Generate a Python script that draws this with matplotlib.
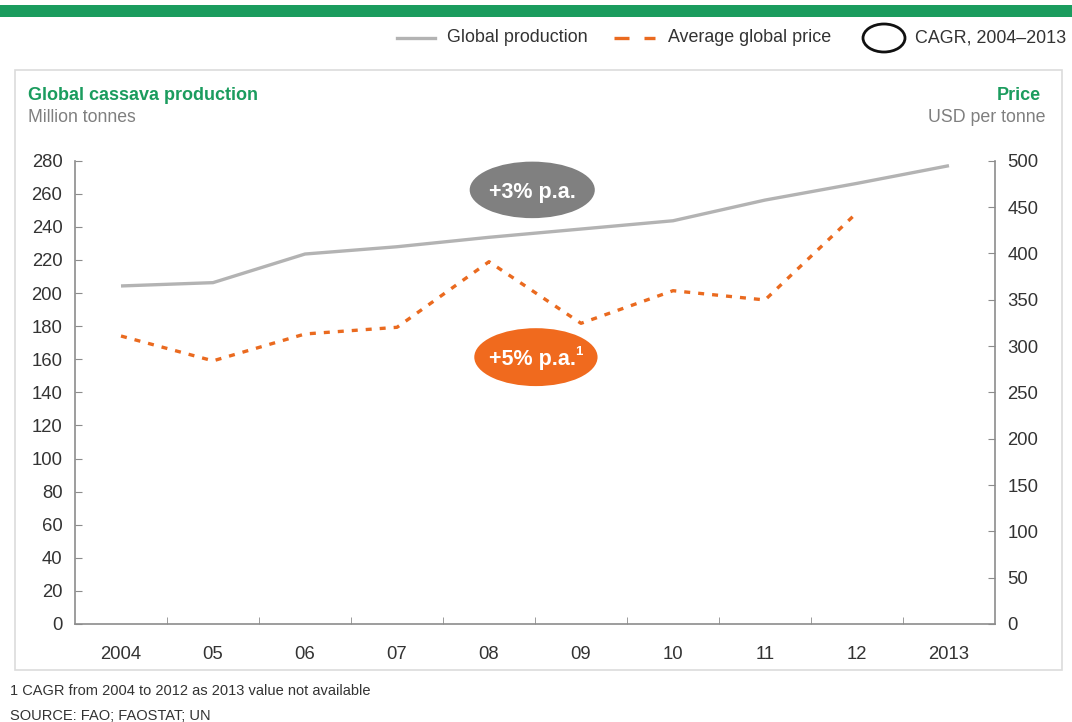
import numpy as np
import matplotlib.pyplot as plt
from matplotlib.patches import Ellipse, Rectangle
from matplotlib.lines import Line2D

years = ['2004', '05', '06', '07', '08', '09', '10', '11', '12', '2013']
production = [204.3, 206.3, 223.6, 228.0, 233.7, 238.7, 243.7, 256.2, 266.3, 277.0]
price = [310.8, 284.0, 313.0, 320.2, 391.0, 324.5, 359.7, 349.7, 444.0]

green = '#1b9c5e'
grey_line = '#b3b3b3'
orange = '#ea6a1f'
txt_grey = '#7f7f7f'
axis_grey = '#8c8c8c'
dark = '#333333'

plt.rcParams['font.family'] = ['Liberation Sans', 'DejaVu Sans']

W, H = 1072, 722
fig = plt.figure(figsize=(W / 100, H / 100), dpi=100)

def fx(px):
    return px / W

def fy(py):
    return 1 - py / H

# top green bar and panel frame
fig.patches.append(Rectangle((0, fy(17)), 1, fy(5) - fy(17), transform=fig.transFigure,
                             color=green, lw=0))
fig.patches.append(Rectangle((fx(15), fy(670)), fx(1062) - fx(15), fy(70) - fy(670),
                             transform=fig.transFigure, fill=False, ec='#dcdcdc', lw=1.2))

ax = fig.add_axes([fx(75), fy(624), fx(995) - fx(75), fy(160.7) - fy(624)])
ax2 = ax.twinx()

x = np.arange(len(years))
ax.plot(x, production, color=grey_line, lw=2.4, solid_capstyle='butt', zorder=3)
ax2.plot(x[:len(price)], price, color=orange, lw=2.4, dashes=(1.8, 2.4), zorder=3)

ax.set_xlim(-0.5, len(years) - 0.5)
ax.set_ylim(0, 280)
ax2.set_ylim(0, 500)
ax.set_yticks(np.arange(0, 281, 20))
ax2.set_yticks(np.arange(0, 501, 50))
ax.set_xticks(x)
ax.set_xticklabels(years)
ax.set_xticks(x[:-1] + 0.5, minor=True)

for a in (ax, ax2):
    a.spines['top'].set_visible(False)
    for s in ['left', 'right', 'bottom']:
        a.spines[s].set_color(axis_grey)
        a.spines[s].set_linewidth(1.2)
ax2.spines['left'].set_visible(False)
ax2.spines['bottom'].set_visible(False)
ax.spines['right'].set_visible(False)

ax.tick_params(axis='x', which='major', length=0, pad=16, labelsize=13.3, labelcolor=dark)
ax.tick_params(axis='x', which='minor', direction='in', length=5, color=axis_grey)
ax.tick_params(axis='y', direction='in', length=5, color=axis_grey, pad=9,
               labelsize=13.3, labelcolor=dark)
ax2.tick_params(axis='y', direction='in', length=5, color=axis_grey, pad=9,
                labelsize=13.3, labelcolor=dark)

# CAGR bubbles
ax.add_patch(Ellipse((0.497, 0.937), 0.136, 0.122, transform=ax.transAxes,
                     color='#808080', lw=0, zorder=5, clip_on=False))
ax.text(0.497, 0.932, '+3% p.a.', transform=ax.transAxes, ha='center', va='center',
        color='white', fontsize=15.5, fontweight='bold', zorder=6)
ax.add_patch(Ellipse((0.501, 0.576), 0.134, 0.125, transform=ax.transAxes,
                     color='#f06a1e', lw=0, zorder=5, clip_on=False))
ax.text(0.497, 0.571, '+5% p.a.', transform=ax.transAxes, ha='center',
        va='center', color='white', fontsize=15.5, fontweight='bold', zorder=6)
ax.text(0.5435, 0.588, '1', transform=ax.transAxes, ha='left',
        va='center', color='white', fontsize=9.5, fontweight='bold', zorder=6)

# titles
fig.text(fx(28), fy(96), 'Global cassava production', color=green, fontsize=13,
         fontweight='bold', ha='left', va='center')
fig.text(fx(28), fy(118), 'Million tonnes', color=txt_grey, fontsize=12.7, ha='left', va='center')
fig.text(fx(1041), fy(96), 'Price', color=green, fontsize=13, fontweight='bold',
         ha='right', va='center')
fig.text(fx(1045), fy(118), 'USD per tonne', color=txt_grey, fontsize=12.8, ha='right', va='center')

# legend
fig.lines.append(Line2D([fx(397), fx(435)], [fy(38), fy(38)], transform=fig.transFigure,
                        color=grey_line, lw=2.4))
fig.text(fx(447), fy(38), 'Global production', fontsize=12.9, color=dark, va='center')
fig.lines.append(Line2D([fx(614), fx(655)], [fy(38), fy(38)], transform=fig.transFigure,
                        color=orange, lw=2.4, dashes=(4.5, 4.5)))
fig.text(fx(668), fy(38), 'Average global price', fontsize=12.9, color=dark, va='center')
fig.patches.append(Ellipse((fx(884), fy(38)), fx(42), 28 / H, transform=fig.transFigure,
                           fill=False, ec='#111111', lw=2))
fig.text(fx(915), fy(38), 'CAGR, 2004\u20132013', fontsize=12.9, color=dark, va='center')

# footnotes
fig.text(fx(10), fy(691), '1 CAGR from 2004 to 2012 as 2013 value not available',
         fontsize=10.5, color=dark, va='center')
fig.text(fx(10), fy(716), 'SOURCE: FAO; FAOSTAT; UN', fontsize=10.5, color=dark, va='center')

fig.savefig('out.png', dpi=100)
